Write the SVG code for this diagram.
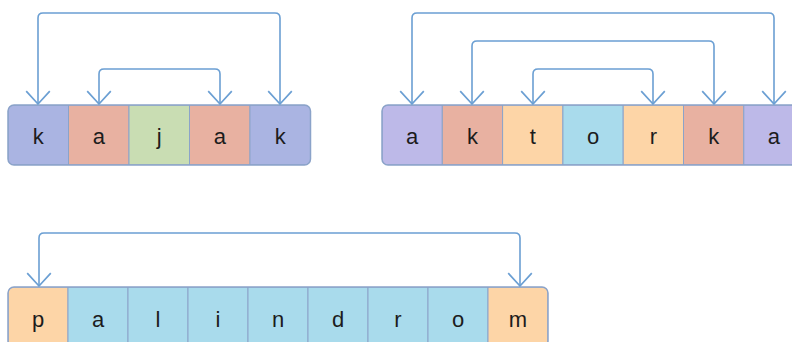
<svg xmlns="http://www.w3.org/2000/svg" width="792" height="342" viewBox="0 0 792 342">
<style>
.c{stroke:#8ba3c9;stroke-width:1}
.t{font-family:"Liberation Sans",Arial,sans-serif;font-size:22px;fill:#1c1c1c;text-anchor:middle}
.frame{fill:none;stroke:#8ba3c9;stroke-width:1.5}
.arc{fill:none;stroke:#6b9fd3;stroke-width:1.6;stroke-linejoin:round}
.pu{fill:#aab4e2}.sa{fill:#e8b1a1}.gr{fill:#c9ddb3}.vi{fill:#bdb9e8}.pe{fill:#fdd5a7}.bl{fill:#a9dbec}
</style>
<defs>
<marker id="ah" markerUnits="userSpaceOnUse" markerWidth="30" markerHeight="30" viewBox="-14 -14 28 28" refX="0" refY="0" orient="auto" overflow="visible">
<path d="M-12,-11 L0,0 L-12,11" fill="none" stroke="#6b9fd3" stroke-width="1.6" stroke-linejoin="round"/>
</marker>
<clipPath id="r1"><rect x="8" y="105" width="302.5" height="60" rx="6"/></clipPath>
<clipPath id="r2"><rect x="382" y="105" width="422" height="60" rx="6"/></clipPath>
<clipPath id="r3"><rect x="8" y="287" width="540" height="60" rx="6"/></clipPath>
</defs>

<g id="word-kajak" clip-path="url(#r1)">
<g id="n1-0"><rect class="c pu" x="8" y="105" width="60.5" height="60"/><text class="t" x="38.25" y="144">k</text></g>
<g id="n1-1"><rect class="c sa" x="68.5" y="105" width="60.5" height="60"/><text class="t" x="98.75" y="144">a</text></g>
<g id="n1-2"><rect class="c gr" x="129" y="105" width="60.5" height="60"/><text class="t" x="159.25" y="144">j</text></g>
<g id="n1-3"><rect class="c sa" x="189.5" y="105" width="60.5" height="60"/><text class="t" x="219.75" y="144">a</text></g>
<g id="n1-4"><rect class="c pu" x="250" y="105" width="60.5" height="60"/><text class="t" x="280.25" y="144">k</text></g>
</g>
<rect class="frame" x="8" y="105" width="302.5" height="60" rx="6"/>

<g id="word-aktorka" clip-path="url(#r2)">
<g id="n2-0"><rect class="c vi" x="382" y="105" width="60.3" height="60"/><text class="t" x="412.15" y="144">a</text></g>
<g id="n2-1"><rect class="c sa" x="442.3" y="105" width="60.3" height="60"/><text class="t" x="472.45" y="144">k</text></g>
<g id="n2-2"><rect class="c pe" x="502.6" y="105" width="60.3" height="60"/><text class="t" x="532.75" y="144">t</text></g>
<g id="n2-3"><rect class="c bl" x="562.9" y="105" width="60.3" height="60"/><text class="t" x="593.05" y="144">o</text></g>
<g id="n2-4"><rect class="c pe" x="623.2" y="105" width="60.3" height="60"/><text class="t" x="653.35" y="144">r</text></g>
<g id="n2-5"><rect class="c sa" x="683.5" y="105" width="60.3" height="60"/><text class="t" x="713.65" y="144">k</text></g>
<g id="n2-6"><rect class="c vi" x="743.8" y="105" width="60.3" height="60"/><text class="t" x="773.95" y="144">a</text></g>
</g>
<rect class="frame" x="382" y="105" width="422" height="60" rx="6"/>

<g id="word-palindrom" clip-path="url(#r3)">
<g id="n3-0"><rect class="c pe" x="8" y="287" width="60" height="60"/><text class="t" x="38" y="327">p</text></g>
<g id="n3-1"><rect class="c bl" x="68" y="287" width="60" height="60"/><text class="t" x="98" y="327">a</text></g>
<g id="n3-2"><rect class="c bl" x="128" y="287" width="60" height="60"/><text class="t" x="158" y="327">l</text></g>
<g id="n3-3"><rect class="c bl" x="188" y="287" width="60" height="60"/><text class="t" x="218" y="327">i</text></g>
<g id="n3-4"><rect class="c bl" x="248" y="287" width="60" height="60"/><text class="t" x="278" y="327">n</text></g>
<g id="n3-5"><rect class="c bl" x="308" y="287" width="60" height="60"/><text class="t" x="338" y="327">d</text></g>
<g id="n3-6"><rect class="c bl" x="368" y="287" width="60" height="60"/><text class="t" x="398" y="327">r</text></g>
<g id="n3-7"><rect class="c bl" x="428" y="287" width="60" height="60"/><text class="t" x="458" y="327">o</text></g>
<g id="n3-8"><rect class="c pe" x="488" y="287" width="60" height="60"/><text class="t" x="518" y="327">m</text></g>
</g>
<rect class="frame" x="8" y="287" width="540" height="60" rx="6"/>

<g id="connectors">
<path class="arc" d="M159,13 H275 Q280,13 280,18 V104" marker-end="url(#ah)"/>
<path class="arc" d="M159,13 H43 Q38,13 38,18 V104" marker-end="url(#ah)"/>
<path class="arc" d="M159,69 H215 Q220,69 220,74 V104" marker-end="url(#ah)"/>
<path class="arc" d="M159,69 H104 Q99,69 99,74 V104" marker-end="url(#ah)"/>

<path class="arc" d="M593,13 H769 Q774,13 774,18 V104" marker-end="url(#ah)"/>
<path class="arc" d="M593,13 H417 Q412,13 412,18 V104" marker-end="url(#ah)"/>
<path class="arc" d="M593,41 H709 Q714,41 714,46 V104" marker-end="url(#ah)"/>
<path class="arc" d="M593,41 H477 Q472,41 472,46 V104" marker-end="url(#ah)"/>
<path class="arc" d="M593,69 H648 Q653,69 653,74 V104" marker-end="url(#ah)"/>
<path class="arc" d="M593,69 H538 Q533,69 533,74 V104" marker-end="url(#ah)"/>

<path class="arc" d="M279,233 H515 Q520,233 520,238 V286" marker-end="url(#ah)"/>
<path class="arc" d="M279,233 H44 Q39,233 39,238 V286" marker-end="url(#ah)"/>
</g>
</svg>
